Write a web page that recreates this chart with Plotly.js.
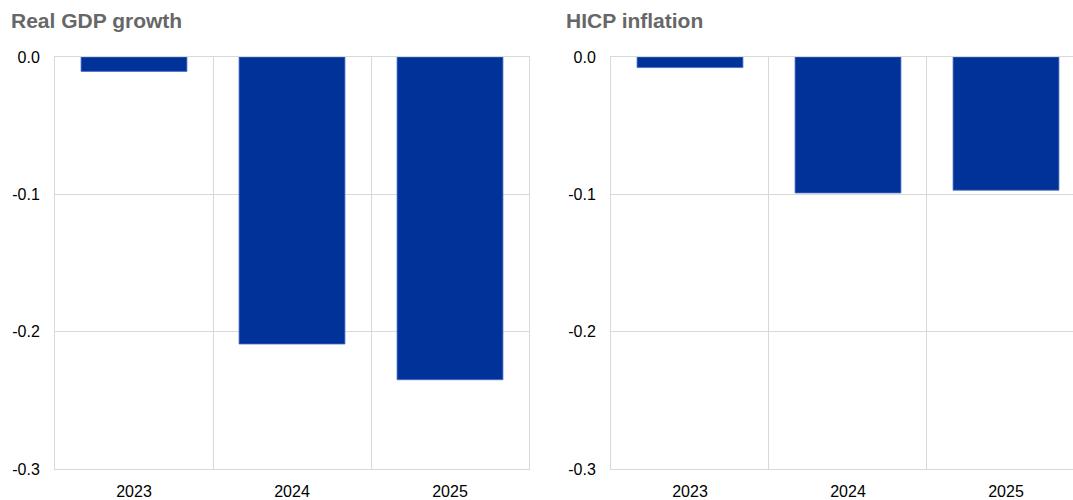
<!DOCTYPE html>
<html>
<head>
<meta charset="utf-8">
<script src="https://cdn.plot.ly/plotly-3.0.1.min.js"></script>
<style>
  html, body { margin: 0; padding: 0; overflow: hidden; background: #fff; }
  #chart { width: 1085px; height: 500px; }
</style>
</head>
<body>
<div id="chart"></div>
<script>
const years = ["2023", "2024", "2025"];
const gdpValues = [-0.0105, -0.209, -0.235];
const hicpValues = [-0.0077, -0.099, -0.097];
const panelTitles = ["Real GDP growth", "HICP inflation"];
const yTicks = [0, -0.1, -0.2, -0.3];
const yTickLabels = ["0.0", "-0.1", "-0.2", "-0.3"];

const barColor = "#003299";
const gridColor = "#d9d9d9";
const tickFont = { family: "Liberation Sans, Arial, sans-serif", size: 16, color: "#000000" };

function barTrace(values, xa, ya) {
  return {
    type: "bar",
    x: years,
    y: values,
    xaxis: xa,
    yaxis: ya,
    width: 0.67,
    marker: { color: barColor, line: { color: "#4a6dc2", width: 0.8 } },
    hoverinfo: "x+y",
    showlegend: false
  };
}

function xAxis(domain, anchor) {
  return {
    domain: domain,
    anchor: anchor,
    type: "category",
    tickson: "boundaries",
    ticks: "",
    showgrid: true,
    gridcolor: gridColor,
    gridwidth: 1,
    showline: true,
    mirror: true,
    linecolor: gridColor,
    linewidth: 1,
    tickfont: tickFont,
    ticklabelstandoff: 8,
    range: [-0.5, 2.5],
    fixedrange: true
  };
}

function yAxis(anchor) {
  return {
    anchor: anchor,
    range: [-0.3, 0],
    tickvals: yTicks,
    ticktext: yTickLabels,
    ticks: "",
    showgrid: true,
    gridcolor: gridColor,
    gridwidth: 1,
    zeroline: false,
    showline: true,
    mirror: true,
    linecolor: gridColor,
    linewidth: 1,
    tickfont: tickFont,
    ticklabelstandoff: 11,
    fixedrange: true
  };
}

const titleFont = { family: "Liberation Sans, Arial, sans-serif", size: 21, color: "#676767" };

const layout = {
  width: 1085,
  height: 500,
  margin: { l: 55, r: 0, t: 57, b: 31, pad: 0 },
  paper_bgcolor: "#ffffff",
  plot_bgcolor: "#ffffff",
  bargap: 0.33,
  xaxis: xAxis([0, 0.4602], "y"),
  yaxis: yAxis("x"),
  xaxis2: xAxis([0.5398, 1], "y2"),
  yaxis2: yAxis("x2"),
  annotations: [
    { text: "<b>" + panelTitles[0] + "</b>", xref: "paper", yref: "paper", x: -0.0447, y: 1.0898,
      xanchor: "left", yanchor: "middle", showarrow: false, font: titleFont },
    { text: "<b>" + panelTitles[1] + "</b>", xref: "paper", yref: "paper", x: 0.4941, y: 1.0898,
      xanchor: "left", yanchor: "middle", showarrow: false, font: titleFont }
  ]
};

Plotly.newPlot("chart", [barTrace(gdpValues, "x", "y"), barTrace(hicpValues, "x2", "y2")], layout,
  { displayModeBar: false, staticPlot: false });
</script>
</body>
</html>
